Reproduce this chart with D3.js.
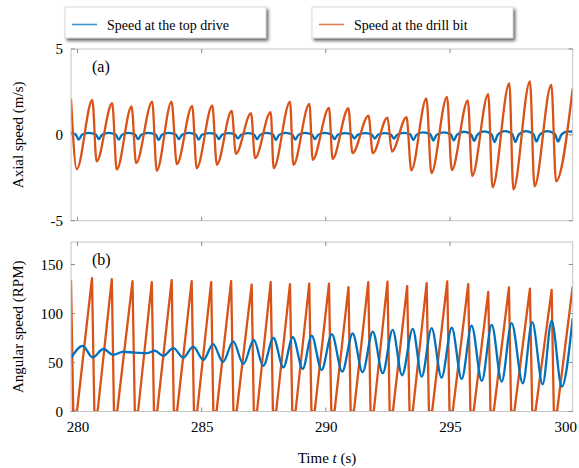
<!DOCTYPE html>
<html>
<head>
<meta charset="utf-8">
<script src="https://cdn.jsdelivr.net/npm/d3@7"></script>
<style>
  body { margin: 0; background: #fff; }
  svg text { font-family: "Liberation Serif", "Times New Roman", serif; fill: #000; }
</style>
</head>
<body>
<svg id="chart" width="579" height="468"></svg>
<script>
// ---- Axial speed (m/s), top drive: shoulder, dip, shoulder, hump per cycle ----
const topAxT = [279.74,
  279.93, 280.05, 280.18, 280.45,  280.74, 280.86, 280.99, 281.26,
  281.54, 281.66, 281.79, 282.05,  282.32, 282.44, 282.57, 282.85,
  283.15, 283.27, 283.40, 283.67,  283.96, 284.08, 284.21, 284.48,
  284.76, 284.88, 285.01, 285.28,  285.57, 285.69, 285.82, 286.07,
  286.34, 286.46, 286.59, 286.85,  287.11, 287.23, 287.36, 287.61,
  287.87, 287.99, 288.12, 288.38,  288.65, 288.77, 288.90, 289.16,
  289.44, 289.56, 289.69, 289.95,  290.23, 290.35, 290.48, 290.75,
  291.03, 291.15, 291.28, 291.56,  291.85, 291.97, 292.10, 292.35,
  292.62, 292.74, 292.87, 293.13,  293.40, 293.52, 293.65, 293.92,
  294.21, 294.33, 294.46, 294.74,  295.03, 295.15, 295.28, 295.56,
  295.85, 295.97, 296.10, 296.38,  296.67, 296.79, 296.92, 297.21,
  297.51, 297.63, 297.76, 298.05,  298.36, 298.48, 298.61, 298.91,
  299.23, 299.35, 299.48, 299.75,
  299.94];
const topAxV = [0.12,
  0.02, -0.28, 0.00, 0.12,  0.02, -0.25, 0.00, 0.12,
  0.02, -0.28, 0.00, 0.12,  0.02, -0.25, 0.00, 0.12,
  0.02, -0.30, 0.00, 0.12,  0.02, -0.25, 0.00, 0.12,
  0.02, -0.28, 0.00, 0.10,  0.02, -0.25, 0.00, 0.10,
  0.02, -0.22, 0.00, 0.10,  0.02, -0.25, 0.00, 0.12,
  0.02, -0.30, 0.00, 0.12,  0.02, -0.28, 0.00, 0.12,
  0.02, -0.25, 0.00, 0.12,  0.02, -0.25, 0.00, 0.10,
  0.02, -0.22, 0.00, 0.10,  0.02, -0.22, 0.00, 0.10,
  0.02, -0.22, 0.00, 0.12,  0.03, -0.30, 0.00, 0.15,
  0.03, -0.33, 0.00, 0.15,  0.03, -0.32, 0.00, 0.18,
  0.03, -0.35, 0.00, 0.20,  0.04, -0.42, 0.00, 0.22,
  0.04, -0.42, 0.00, 0.22,  0.04, -0.40, 0.00, 0.22,
  0.04, -0.40, 0.00, 0.20,
  0.18];

// ---- Axial speed (m/s), drill bit: alternating peaks and troughs ----
const bitAxT = [279.74, 279.97, 280.60, 280.77, 281.40, 281.58, 282.18, 282.36, 283.01, 283.19,
  283.79, 284.00, 284.62, 284.80, 285.43, 285.61, 286.21, 286.38, 286.99, 287.15,
  287.78, 287.90, 288.56, 288.69, 289.34, 289.47, 290.13, 290.27, 290.91, 291.07,
  291.72, 291.89, 292.48, 292.66, 293.25, 293.44, 294.05, 294.25, 294.88, 295.07,
  295.72, 295.89, 296.54, 296.71, 297.39, 297.55, 298.22, 298.40, 299.08, 299.27,
  299.94];
const bitAxV = [2.10, -2.00, 2.03, -1.55, 1.84, -2.03, 1.65, -1.65, 1.94, -2.09,
  1.94, -1.71, 1.69, -1.94, 1.71, -1.74, 1.40, -1.10, 1.26, -1.36,
  1.32, -1.94, 1.94, -1.75, 1.80, -1.45, 1.57, -1.40, 1.55, -1.07,
  1.12, -1.07, 1.00, -0.97, 1.03, -2.07, 2.13, -2.23, 2.21, -2.05,
  2.01, -2.40, 2.37, -3.05, 3.00, -3.18, 3.12, -3.00, 2.91, -2.71,
  2.70];

// ---- Angular speed (RPM), top drive: alternating peaks and troughs ----
const topRpmT = [279.74, 280.21, 280.61, 281.04, 281.44, 281.85, 282.32, 282.79, 283.12, 283.46,
  283.86, 284.26, 284.66, 285.07, 285.46, 285.86, 286.27, 286.68, 287.10, 287.48,
  287.89, 288.29, 288.67, 289.07, 289.43, 289.83, 290.24, 290.66, 291.08, 291.48,
  291.89, 292.29, 292.69, 293.07, 293.50, 293.86, 294.26, 294.66, 295.07, 295.47,
  295.87, 296.28, 296.68, 297.08, 297.48, 297.93, 298.31, 298.73, 299.09, 299.50,
  299.94];
const topRpmV = [54.4, 67.0, 55.2, 63.8, 57.8, 61.0, 60.0, 59.5, 62.0, 56.8,
  64.6, 55.0, 66.3, 52.7, 68.7, 50.5, 71.5, 48.5, 73.0, 46.5,
  75.0, 45.0, 76.0, 43.5, 77.5, 42.4, 78.9, 40.7, 79.6, 40.1,
  81.6, 39.1, 83.3, 37.0, 84.4, 35.6, 85.0, 34.6, 85.7, 33.2,
  87.7, 31.2, 88.4, 30.5, 90.2, 28.8, 91.2, 27.8, 92.5, 25.4,
  95.3];

// ---- Angular speed (RPM), drill bit: peak, end of drop, end of stick per cycle ----
const bitRpmT = [279.74, 279.83, 279.98,
  280.585, 280.68, 280.81, 281.383, 281.47, 281.60, 282.216, 282.31, 282.44,
  282.993, 283.08, 283.21, 283.794, 283.88, 284.01, 284.599, 284.69, 284.82,
  285.384, 285.47, 285.60, 286.189, 286.28, 286.41, 287.015, 287.10, 287.23,
  287.780, 287.87, 288.00, 288.557, 288.65, 288.78, 289.333, 289.42, 289.55,
  290.127, 290.22, 290.35, 290.912, 291.00, 291.13, 291.709, 291.80, 291.93,
  292.482, 292.57, 292.70, 293.275, 293.37, 293.50, 294.060, 294.15, 294.28,
  294.889, 294.98, 295.11, 295.734, 295.82, 295.95, 296.540, 296.63, 296.76,
  297.373, 297.46, 297.59, 298.218, 298.31, 298.44, 299.092, 299.18, 299.31,
  299.94];
const bitRpmV = [134, 0, 0,
  136, 0, 0, 135, 0, 0, 133, 0, 0,
  132, 0, 0, 134, 0, 0, 133, 0, 0,
  132, 0, 0, 133, 0, 0, 129.5, 0, 0,
  132, 0, 0, 130, 0, 0, 130.5, 0, 0,
  130.5, 0, 0, 127, 0, 0, 132, 0, 0,
  132.5, 0, 0, 128, 0, 0, 131, 0, 0,
  132.7, 0, 0, 130, 0, 0, 122, 0, 0,
  126.6, 0, 0, 125.3, 0, 0, 124.2, 0, 0,
  127.6];

// ---- Axis ticks and legend labels ----
const timeTicks = [280, 285, 290, 295, 300];
const axialTicks = [-5, 0, 5];
const angularTicks = [0, 50, 100, 150];
const seriesNames = ["Speed at the top drive", "Speed at the drill bit"];
const seriesColors = ["#0072BD", "#D95319"];

const zip = (t, v) => t.map((d, i) => [d, v[i]]);

const svg = d3.select("#chart");
const plotL = 71, plotR = 572.7;

const x = d3.scaleLinear().domain([279.74, 299.94]).range([plotL, plotR]);
const yAx = d3.scaleLinear().domain([-5, 5]).range([220.7, 49]);
const yRpm = d3.scaleLinear().domain([0, 173]).range([411.5, 242]);

// Drop-shadow filter for the legend boxes
const defs = svg.append("defs");
const f = defs.append("filter").attr("id", "shadow")
  .attr("x", "-10%").attr("y", "-20%").attr("width", "130%").attr("height", "160%");
f.append("feDropShadow").attr("dx", 2).attr("dy", 2.5).attr("stdDeviation", 1.4)
  .attr("flood-color", "#333").attr("flood-opacity", 0.75);

function panel(id, y, ticksY, label, title, series) {
  const [y0, y1] = y.range();
  defs.append("clipPath").attr("id", id)
    .append("rect").attr("x", plotL).attr("y", y1).attr("width", plotR - plotL).attr("height", y0 - y1);

  const g = svg.append("g");
  g.append("rect").attr("x", plotL).attr("y", y1).attr("width", plotR - plotL).attr("height", y0 - y1)
    .attr("fill", "#fff");

  // series
  const lines = g.append("g").attr("clip-path", `url(#${id})`);
  series.forEach(s => {
    lines.append("path")
      .datum(s.data)
      .attr("fill", "none")
      .attr("stroke", s.color)
      .attr("stroke-width", 2.3)
      .attr("stroke-linejoin", "round")
      .attr("d", d3.line().x(d => x(d[0])).y(d => y(d[1])).curve(s.curve)(s.data));
  });

  // frame
  g.append("rect").attr("x", plotL).attr("y", y1).attr("width", plotR - plotL).attr("height", y0 - y1)
    .attr("fill", "none").attr("stroke", "#c4c4c4").attr("stroke-width", 1);

  // inward tick marks
  const tk = g.append("g").attr("stroke", "#8a8a8a").attr("stroke-width", 1);
  timeTicks.filter(t => x(t) <= plotR).forEach(t => {
    tk.append("line").attr("x1", x(t)).attr("x2", x(t)).attr("y1", y1).attr("y2", y1 + 4);
    tk.append("line").attr("x1", x(t)).attr("x2", x(t)).attr("y1", y0).attr("y2", y0 - 4);
  });
  ticksY.forEach(v => {
    tk.append("line").attr("x1", plotL).attr("x2", plotL + 4).attr("y1", y(v)).attr("y2", y(v));
    tk.append("line").attr("x1", plotR).attr("x2", plotR - 4).attr("y1", y(v)).attr("y2", y(v));
  });

  // y tick labels
  const ya = svg.append("g").attr("transform", `translate(${plotL},0)`)
    .call(d3.axisLeft(y).tickValues(ticksY).tickSize(0).tickPadding(8).tickFormat(d => String(d)));
  ya.select(".domain").remove();
  ya.selectAll("text").style("font-size", "15px").style("font-family", '"Liberation Serif", serif');

  // panel tag
  svg.append("text").attr("x", 92).attr("y", y1 + 23).style("font-size", "16px").text(label);

  // y title
  svg.append("text")
    .attr("transform", `translate(18,${(y0 + y1) / 2}) rotate(-90)`)
    .attr("text-anchor", "middle").attr("dy", "0.35em")
    .style("font-size", "15px").text(title);
}

panel("clipA", yAx, axialTicks, "(a)", "Axial speed (m/s)", [
  { data: zip(topAxT, topAxV), color: seriesColors[0], curve: d3.curveMonotoneX },
  { data: zip(bitAxT, bitAxV), color: seriesColors[1], curve: d3.curveMonotoneX }
]);

panel("clipB", yRpm, angularTicks, "(b)", "Angular speed (RPM)", [
  { data: zip(bitRpmT, bitRpmV), color: seriesColors[1], curve: d3.curveLinear },
  { data: zip(topRpmT, topRpmV), color: seriesColors[0], curve: d3.curveMonotoneX }
]);

// time axis labels
const xa = svg.append("g").attr("transform", `translate(0,${yRpm.range()[0]})`)
  .call(d3.axisBottom(x).tickValues(timeTicks).tickSize(0).tickPadding(10).tickFormat(d => String(d)));
xa.select(".domain").remove();
xa.selectAll("text").style("font-size", "15px").style("font-family", '"Liberation Serif", serif');
xa.selectAll("text").filter(d => d === 300).attr("dx", -9);

const xt = svg.append("text").attr("x", 327).attr("y", 463).attr("text-anchor", "middle")
  .style("font-size", "15px");
xt.append("tspan").text("Time ");
xt.append("tspan").style("font-style", "italic").text("t");
xt.append("tspan").text(" (s)");

// legend: two separate boxes
const legendX = [65, 312];
seriesNames.forEach((name, i) => {
  const lg = svg.append("g").attr("transform", `translate(${legendX[i]},7)`);
  lg.append("rect").attr("width", 201).attr("height", 31)
    .attr("fill", "#fff").attr("stroke", "#d0d0d0").attr("stroke-width", 0.8)
    .attr("filter", "url(#shadow)");
  lg.append("line").attr("x1", 7).attr("x2", 32).attr("y1", 17.5).attr("y2", 17.5)
    .attr("stroke", seriesColors[i]).attr("stroke-width", 1.6).attr("opacity", 0.75);
  lg.append("text").attr("x", 42).attr("y", 22.5).style("font-size", "14px").text(name);
});
</script>
</body>
</html>
